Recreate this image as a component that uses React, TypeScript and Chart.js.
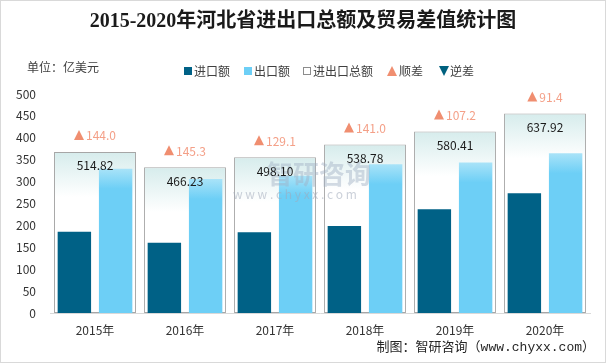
import React, { useEffect, useRef } from 'react';
import { Chart, registerables } from 'chart.js';

Chart.register(...registerables);

const years = ['2015年', '2016年', '2017年', '2018年', '2019年', '2020年'];
const importValues = [185.41, 160.47, 184.5, 198.89, 236.61, 273.26];
const exportValues = [329.41, 305.77, 313.6, 339.89, 343.8, 364.66];
const totalValues = [514.82, 466.23, 498.1, 538.78, 580.41, 637.92];
const balanceValues = [144.0, 145.3, 129.1, 141.0, 107.2, 91.4];
const yMax = 500;
const yStep = 50;
const totalAxisMax = 700;

const SANS = '"Noto Sans CJK SC", "Noto Sans", sans-serif';

export default function App() {
  const ref = useRef<HTMLCanvasElement>(null);

  useEffect(() => {
    document.body.style.margin = '0';
    const canvas = ref.current!;

    const overlay = {
      id: 'overlay',
      beforeDraw(chart: any) {
        const c = chart.ctx;
        c.save();
        c.fillStyle = '#ffffff';
        c.fillRect(0, 0, chart.width, chart.height);
        c.restore();
      },
      afterDatasetsDraw(chart: any) {
        const c = chart.ctx;
        c.save();
        // watermark
        c.fillStyle = 'rgba(160,175,195,0.45)';
        c.font = 'bold 26px ' + SANS;
        c.textBaseline = 'middle';
        c.textAlign = 'left';
        c.fillText('智研咨询', 267, 174);
        c.font = '12px ' + SANS;
        c.fillStyle = 'rgba(160,170,185,0.55)';
        c.fillText('w w w . c h y x x . c o m', 233, 194);

        const meta = chart.getDatasetMeta(2);
        meta.data.forEach((el: any, i: number) => {
          const x = el.x;
          const top = el.y;
          // total label
          c.font = '12px ' + SANS;
          c.fillStyle = '#1a1a1a';
          c.textAlign = 'center';
          c.textBaseline = 'middle';
          c.fillText(totalValues[i].toFixed(2), x, top + 14);
          // balance label
          const v = balanceValues[i];
          const txt = Math.abs(v).toFixed(1);
          c.font = '12px ' + SANS;
          const tw = c.measureText(txt).width;
          const triW = 10;
          const gap = 2;
          const total = triW + gap + tw;
          const sx = x - total / 2;
          const cy = top - 17;
          c.beginPath();
          if (v >= 0) {
            c.fillStyle = '#f08e70';
            c.moveTo(sx, cy + 5);
            c.lineTo(sx + triW, cy + 5);
            c.lineTo(sx + triW / 2, cy - 5);
          } else {
            c.fillStyle = '#00617f';
            c.moveTo(sx, cy - 5);
            c.lineTo(sx + triW, cy - 5);
            c.lineTo(sx + triW / 2, cy + 5);
          }
          c.closePath();
          c.fill();
          c.fillStyle = v >= 0 ? '#f4a088' : '#00617f';
          c.textAlign = 'left';
          c.fillText(txt, sx + triW + gap, cy + 1);
        });
        c.restore();
      },
      afterDraw(chart: any) {
        const c = chart.ctx;
        c.save();
        // title
        c.fillStyle = '#1a1a1a';
        c.font = 'bold 20px "Liberation Serif", "Noto Sans CJK SC", serif';
        c.textAlign = 'center';
        c.textBaseline = 'middle';
        c.fillText('2015-2020年河北省进出口总额及贸易差值统计图', 303, 22);
        // unit
        c.font = '12px ' + SANS;
        c.fillStyle = '#404040';
        c.textAlign = 'left';
        c.fillText('单位：亿美元', 27, 67);
        // legend
        const ly = 71;
        c.fillStyle = '#006186';
        c.fillRect(184, ly - 4, 8, 8);
        c.fillStyle = '#404040';
        c.fillText('进口额', 194, ly);
        c.fillStyle = '#6dcff6';
        c.fillRect(244, ly - 4, 8, 8);
        c.fillStyle = '#404040';
        c.fillText('出口额', 254, ly);
        c.strokeStyle = '#8c8c8c';
        c.lineWidth = 1;
        c.strokeRect(303.5, ly - 3.5, 7, 7);
        c.fillText('进出口总额', 313, ly);
        c.fillStyle = '#f08e70';
        c.beginPath();
        c.moveTo(387, ly + 5);
        c.lineTo(397, ly + 5);
        c.lineTo(392, ly - 5);
        c.closePath();
        c.fill();
        c.fillStyle = '#404040';
        c.fillText('顺差', 399, ly);
        c.fillStyle = '#00617f';
        c.beginPath();
        c.moveTo(439, ly - 5);
        c.lineTo(449, ly - 5);
        c.lineTo(444, ly + 5);
        c.closePath();
        c.fill();
        c.fillStyle = '#404040';
        c.fillText('逆差', 450, ly);
        // footer
        c.fillStyle = '#262626';
        c.font = '13px "Liberation Mono", "Noto Sans CJK SC", monospace';
        c.textAlign = 'right';
        c.fillText('制图：智研咨询（www.chyxx.com）', 595, 348);
        // border
        c.strokeStyle = '#d9d9d9';
        c.strokeRect(0.5, 0.5, chart.width - 1, chart.height - 1);
        c.restore();
      },
    };

    const exportFill = (ctx: any) => {
      const chart = ctx.chart;
      if (!chart.chartArea || ctx.raw == null) return '#6dcff6';
      const top = chart.scales.y.getPixelForValue(ctx.raw);
      const g = chart.ctx.createLinearGradient(0, top, 0, top + 20);
      g.addColorStop(0, '#a9e3f8');
      g.addColorStop(1, '#6dcff6');
      return g;
    };
    const boxFill = (ctx: any) => {
      const chart = ctx.chart;
      if (!chart.chartArea || ctx.raw == null) return '#ffffff';
      const top = chart.scales.y2.getPixelForValue(ctx.raw);
      const g = chart.ctx.createLinearGradient(0, top, 0, top + 45);
      g.addColorStop(0, '#d6ecec');
      g.addColorStop(1, '#ffffff');
      return g;
    };

    const tickFont = { family: SANS, size: 12 };

    const chart = new Chart(canvas, {
      type: 'bar',
      data: {
        labels: years,
        datasets: [
          {
            label: '进口额',
            data: importValues,
            backgroundColor: '#006186',
            yAxisID: 'y',
            order: 1,
            categoryPercentage: 0.917,
            barPercentage: 0.81,
          },
          {
            label: '出口额',
            data: exportValues,
            backgroundColor: exportFill,
            yAxisID: 'y',
            order: 1,
            categoryPercentage: 0.917,
            barPercentage: 0.81,
          },
          {
            label: '进出口总额',
            data: totalValues,
            backgroundColor: boxFill,
            borderColor: '#a6a6a6',
            borderWidth: 1,
            borderSkipped: false,
            yAxisID: 'y2',
            grouped: false,
            order: 5,
            categoryPercentage: 1,
            barPercentage: 0.91,
          },
        ],
      } as any,
      options: {
        responsive: false,
        animation: false,
        layout: { padding: { top: 94, right: 16, left: 0, bottom: 0 } },
        plugins: {
          legend: { display: false },
          tooltip: { enabled: false },
          title: { display: false },
        },
        scales: {
          x: {
            grid: { display: false, drawTicks: false },
            border: { display: true, color: '#d9d9d9', width: 1 },
            ticks: { font: tickFont, color: '#333333', padding: 10 },
            afterFit(s: any) {
              s.height = 50;
            },
          },
          y: {
            min: 0,
            max: yMax,
            ticks: { stepSize: yStep, font: tickFont, color: '#333333', padding: 14 },
            grid: { display: false, drawTicks: false },
            border: { display: false },
            afterFit(s: any) {
              s.width = 50;
            },
          },
          y2: { display: false, min: 0, max: totalAxisMax },
        },
      } as any,
      plugins: [overlay],
    });
    return () => chart.destroy();
  }, []);

  return <canvas ref={ref} width={606} height={363} style={{ display: 'block' }} />;
}
